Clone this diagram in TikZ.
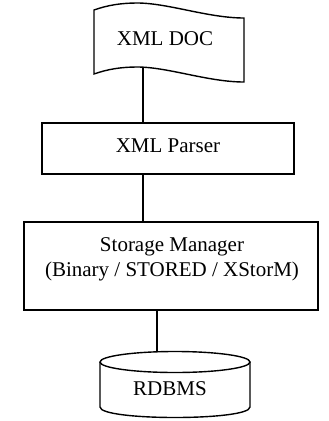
\documentclass[tikz,border=0pt]{standalone}
\usepackage{fontspec}
\setmainfont{Liberation Serif}
\begin{document}
\begin{tikzpicture}[x=1pt, y=-1pt, line width=1.5pt,
  box/.style={draw, rectangle, inner sep=0pt, line width=1.6pt},
  lbl/.style={inner sep=0pt, font=\fontsize{21}{25}\selectfont},
  link/.style={line width=1.4pt},
  outline/.style={line width=1.4pt}]
\useasboundingbox (0,0) rectangle (329,421);

% document symbol with wavy top and bottom edges
\draw[outline] (94,10) .. controls (108,5) and (122,3) .. (137,3)
  .. controls (168,3) and (208,18) .. (244,18) -- (244,82)
  .. controls (208,82) and (168,67) .. (137,67)
  .. controls (122,67) and (108,69) .. (94,74) -- cycle;
\node[lbl, anchor=base] (doc) at (165,45) {XML DOC};
\coordinate (docb) at (143,66.5);

% parser
\node[box, lbl, text depth=6pt, minimum width=252pt, minimum height=51pt] (parser) at (168,148.5) {XML Parser};

% storage manager
\node[box, minimum width=294pt, minimum height=88pt] (store) at (171,266) {};
\node[lbl, align=center] (storetxt) at (172,259) {Storage Manager\\(Binary / STORED / XStorM)};

% database cylinder
\draw[outline] (175,362) ellipse [x radius=75, y radius=10.5];
\draw[outline] (100,362) -- (100,407) .. controls (100,421) and (250,421) .. (250,407) -- (250,362);
\node[lbl, anchor=base] (db) at (170,395) {RDBMS};
\coordinate (dbtop) at (157,351.5);

% connectors
\draw[link] (docb) -- (docb |- parser.north);
\draw[link] (docb |- parser.south) -- (docb |- store.north);
\draw[link] (dbtop |- store.south) -- (dbtop);
\end{tikzpicture}
\end{document}
